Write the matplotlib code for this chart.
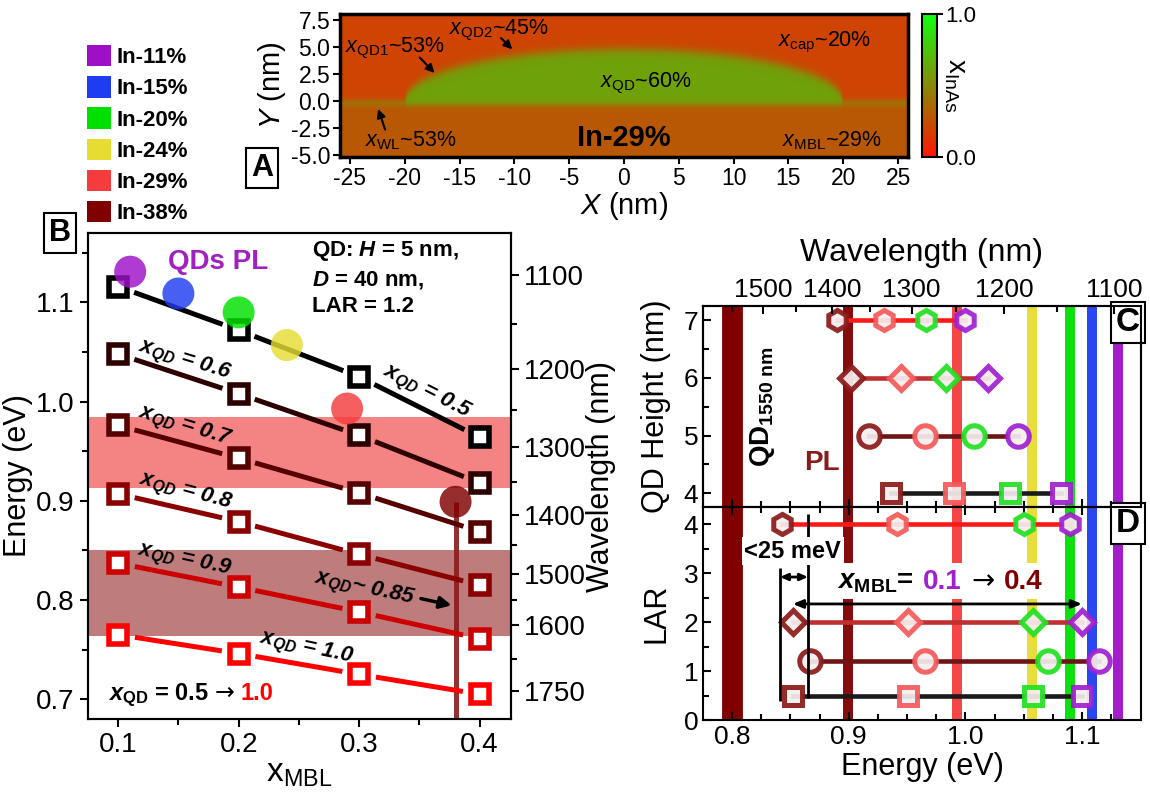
import numpy as np
import matplotlib
matplotlib.use("Agg")
import matplotlib.pyplot as plt
from matplotlib.colors import LinearSegmentedColormap
from matplotlib.patches import Patch
from matplotlib.offsetbox import TextArea, HPacker, AnnotationBbox

plt.rcParams['font.family'] = ['Liberation Sans', 'DejaVu Sans']
plt.rcParams['mathtext.fontset'] = 'custom'
plt.rcParams['mathtext.rm'] = 'Liberation Sans'
plt.rcParams['mathtext.it'] = 'Liberation Sans:italic'
plt.rcParams['mathtext.bf'] = 'Liberation Sans:bold'
plt.rcParams['mathtext.bfit'] = 'Liberation Sans:italic:bold'
plt.rcParams['axes.linewidth'] = 1.5

# ---- panel A: simulated composition
x_cap, x_qd, x_mbl, x_wl = 0.20, 0.60, 0.29, 0.53
qd_height, qd_diam = 4.8, 40.0

# ---- PL peaks / legend
in_labels = ["In-11%", "In-15%", "In-20%", "In-24%", "In-29%", "In-38%"]
in_colors = ["#9e10c8", "#1e3cf0", "#00e000", "#e6dc32", "#f53c3c", "#800000"]
pl_xmbl = [0.11, 0.15, 0.20, 0.24, 0.29, 0.38]
pl_energy = [1.131, 1.109, 1.090, 1.057, 0.993, 0.899]

# ---- panel B
xmbl = [0.1, 0.2, 0.3, 0.4]
xqd_vals = ["0.5", "0.6", "0.7", "0.8", "0.9", "1.0"]
e_b = [
    [1.116, 1.072, 1.025, 0.964],
    [1.048, 1.008, 0.966, 0.918],
    [0.976, 0.943, 0.908, 0.869],
    [0.907, 0.879, 0.846, 0.815],
    [0.837, 0.813, 0.788, 0.761],
    [0.765, 0.746, 0.725, 0.705],
]
series_colors = ["#000000", "#2d0000", "#560000", "#8b0000", "#cc0000", "#ff0000"]
band_lo = [0.913, 0.764]
band_hi = [0.984, 0.850]
band_colors = ["#f48484", "#bf7c7c"]
wl_major = [1100, 1200, 1300, 1400, 1500, 1600, 1750]
wl_minor = [1150, 1250, 1350, 1450, 1550, 1675]

# ---- panels C / D
heights = [7, 6, 5, 4]
lars = [4, 2, 1.2, 0.5]
row_markers = ['h', 'D', 'o', 's']
row_ms = [14.5, 12.5, 15.5, 12.5]
row_colors = ["#ff1a1a", "#c03030", "#6e1414", "#1a1a1a"]
mbl_colors = ["#8b1a1a", "#f55a5a", "#22e022", "#a020d0"]  # x_MBL 0.4, 0.3, 0.2, 0.1
e_c = [
    [0.890, 0.930, 0.966, 1.000],
    [0.902, 0.945, 0.983, 1.019],
    [0.917, 0.965, 1.007, 1.045],
    [0.936, 0.990, 1.038, 1.082],
]
e_d = [
    [0.843, 0.941, 1.050, 1.090],
    [0.852, 0.951, 1.058, 1.100],
    [0.867, 0.965, 1.071, 1.115],
    [0.852, 0.951, 1.058, 1.100],
]
wl_top = [1500, 1400, 1300, 1200, 1100]
wl_top_minor = [1550, 1450, 1350, 1250, 1150]
qd1550 = 1240 / 1550
bracket_e = [0.841, 0.865]

fig = plt.figure(figsize=(11.5, 7.93), dpi=100)


def px_axes(l, t, r, b):
    return fig.add_axes([l / 1150, 1 - b / 793, (r - l) / 1150, (b - t) / 793])


def gapped_line(ax, xs, ys, gap, **kw):
    pts = ax.transData.transform(np.column_stack([xs, ys]))
    inv = ax.transData.inverted()
    for p, q in zip(pts[:-1], pts[1:]):
        u = (q - p) / np.hypot(*(q - p))
        seg = inv.transform(np.array([p + u * gap, q - u * gap]))
        ax.plot(seg[:, 0], seg[:, 1], solid_capstyle='butt', **kw)


# ================= panel A
axA = px_axes(340, 14, 908, 157)
cax = px_axes(922, 14, 937, 157)
xg = np.linspace(-26, 26, 521)
yg = np.linspace(-5.5, 8.5, 281)
X, Y = np.meshgrid(xg, yg)
sig = lambda z: 1 / (1 + np.exp(-z))
top = qd_height * np.sqrt(np.clip(1 - (X / (qd_diam / 2)) ** 2, 0, None))
above = sig(Y / 0.2)
comp = x_mbl * (1 - above) + x_cap * above
wl = np.exp(-((Y + 0.2) / 0.35) ** 2)
comp = comp + (x_wl - comp) * wl * 0.45
inside = sig((top - Y) / 0.25) * sig((Y + 0.3) / 0.15) * (np.abs(X) < qd_diam / 2)
comp = comp * (1 - inside) + x_qd * inside
cmap = LinearSegmentedColormap.from_list("rg", ["#ff1500", "#10ff10"])
im = axA.imshow(comp, extent=[-26, 26, -5.5, 8.5], origin='lower', cmap=cmap,
                vmin=0, vmax=1, aspect='auto', interpolation='bilinear')
axA.set_xlim(-25.9, 25.9)
axA.set_ylim(-5.2, 8.05)
axA.set_xticks(np.arange(-25, 26, 5))
axA.set_yticks([-5, -2.5, 0, 2.5, 5, 7.5])
axA.set_yticklabels(["-5.0", "-2.5", "0.0", "2.5", "5.0", "7.5"])
axA.set_xticklabels([str(v) for v in range(-25, 26, 5)])
axA.tick_params(labelsize=16.5, width=1.5, length=5, pad=2)
axA.set_xlabel(r"$X$ (nm)", fontsize=21, labelpad=0)
axA.set_ylabel(r"$Y$ (nm)", fontsize=21, labelpad=2)
for sp in axA.spines.values():
    sp.set_linewidth(2.5)
tA = dict(fontsize=15.5)
axA.text(-25.4, 4.9, r"$x_{\mathrm{QD1}}$~53%", va='center', **tA)
axA.text(-16.0, 6.5, r"$x_{\mathrm{QD2}}$~45%", va='center', **tA)
axA.text(14.0, 5.4, r"$x_{\mathrm{cap}}$~20%", va='center', **tA)
axA.text(2.0, 1.6, r"$x_{\mathrm{QD}}$~60%", va='center', ha='center', **tA)
axA.text(-23.6, -3.7, r"$x_{\mathrm{WL}}$~53%", va='center', **tA)
axA.text(14.4, -3.7, r"$x_{\mathrm{MBL}}$~29%", va='center', **tA)
axA.text(0, -3.45, "In-29%", ha='center', va='center', fontsize=21, fontweight='bold')
arr = dict(arrowstyle='-|>,head_length=0.5,head_width=0.25', color='k', lw=1.5)
axA.annotate("", xy=(-17.1, 2.4), xytext=(-18.8, 4.2), arrowprops=arr)
axA.annotate("", xy=(-10.0, 4.6), xytext=(-11.4, 6.0), arrowprops=arr)
axA.annotate("", xy=(-22.5, -0.5), xytext=(-21.7, -2.9), arrowprops=arr)
cb = fig.colorbar(im, cax=cax, ticks=[0, 1], format='%.1f')
cb.outline.set_linewidth(1.5)
cax.tick_params(labelsize=16, width=1.5, length=4, pad=2)
cb.set_label(r"x$_{\mathrm{InAs}}$", rotation=270, fontsize=20)
cax.yaxis.set_label_coords(3.1, 0.5)

# legend
handles = [Patch(facecolor=c, edgecolor='none') for c in in_colors]
fig.legend(handles, in_labels, loc='upper left', bbox_to_anchor=(87 / 1150, 1 - 45 / 793),
           frameon=False, prop=dict(size=16, weight='bold'), handlelength=1.1,
           handleheight=1.1, handletextpad=0.25, labelspacing=0.36, borderpad=0,
           borderaxespad=0)

# ================= panel B
axB = px_axes(88, 233, 511, 719)
axB.set_xlim(0.075, 0.426)
axB.set_ylim(0.68, 1.17)
for lo, hi, c in zip(band_lo, band_hi, band_colors):
    axB.axhspan(lo, hi, color=c, lw=0, zorder=0)
axB.vlines(pl_xmbl[-1], 0.68, pl_energy[-1], color='#8b1a1a', lw=3.6, alpha=0.9, zorder=1)
for e, c in zip(e_b, series_colors):
    gapped_line(axB, xmbl, e, 17, color=c, lw=3.6, zorder=2)
    axB.plot(xmbl, e, ls='none', marker='s', ms=12.5, mew=4.0, mec=c, mfc='white', zorder=3)
axB.scatter(pl_xmbl, pl_energy, s=530, c=in_colors, alpha=0.82, edgecolors='none', zorder=4)
axB.set_xticks(xmbl)
axB.set_xticklabels(["0.1", "0.2", "0.3", "0.4"])
axB.set_xticks([0.15, 0.25, 0.35], minor=True)
axB.set_yticks([0.7, 0.8, 0.9, 1.0, 1.1])
axB.set_yticks([0.75, 0.85, 0.95, 1.05, 1.15], minor=True)
axB.tick_params(labelsize=20, width=1.5, length=6)
axB.tick_params(which='minor', width=1.5, length=4)
axB.set_xlabel(r"x$_{\mathrm{MBL}}$", fontsize=24, labelpad=0)
axB.set_ylabel("Energy (eV)", fontsize=22, labelpad=2)
axW = axB.twinx()
axW.set_ylim(axB.get_ylim())
axW.set_yticks([1240 / w for w in wl_major])
axW.set_yticklabels([str(w) for w in wl_major])
axW.set_yticks([1240 / w for w in wl_minor], minor=True)
axW.tick_params(labelsize=20, width=1.5, length=6)
axW.tick_params(which='minor', width=1.5, length=4)
axW.set_ylabel("Wavelength (nm)", fontsize=22, labelpad=0)

lab = dict(fontsize=16, fontweight='bold', fontstyle='italic', ha='center', va='center',
           rotation_mode='anchor', zorder=5)
lab_pos = [(0.356, 1.0095, -27), (0.1555, 1.0407, -17), (0.155, 0.9744, -17),
           (0.1555, 0.909, -15), (0.155, 0.8397, -12), (0.2558, 0.751, -12)]
for v, (lx, ly, rot) in zip(xqd_vals, lab_pos):
    axB.text(lx, ly, r"$\mathbfit{x}_{\mathbfit{QD}}$ = " + v, rotation=rot, **lab)
axB.text(0.3046, 0.811, r"$\mathbfit{x}_{\mathbfit{QD}}$~ 0.85", rotation=-12, **lab)
axB.annotate("", xy=(0.379, 0.794), xytext=(0.349, 0.802),
             arrowprops=dict(arrowstyle='-|>,head_length=0.7,head_width=0.35', color='k', lw=2.5),
             zorder=5)
axB.text(0.183, 1.141, "QDs PL", color='#a020c0', fontsize=20, fontweight='bold',
         ha='center', va='center', zorder=5)
axB.text(0.2607, 1.164, "QD: $\\mathbfit{H}$ = 5 nm,\n$\\mathbfit{D}$ = 40 nm,\nLAR = 1.2",
         fontsize=16, fontweight='bold', ha='left', va='top', linespacing=1.35, zorder=5)
packB = HPacker(children=[
    TextArea(r"$\mathbfit{x}_{\mathbf{QD}}$ = 0.5", textprops=dict(size=17, weight='bold')),
    TextArea("→", textprops=dict(size=17, family='DejaVu Sans')),
    TextArea("1.0", textprops=dict(size=17, weight='bold', color='#ff0000'))], sep=4, pad=0,
    align='baseline')
axB.add_artist(AnnotationBbox(packB, (0.092, 0.704), box_alignment=(0, 0.5), frameon=False,
                              zorder=5))

# ================= panels C and D
axC = px_axes(703, 306, 1141, 507)
axD = px_axes(703, 507, 1141, 720)
for ax in (axC, axD):
    ax.set_xlim(0.775, 1.1506)
    ax.axvline(qd1550, color='#800000', lw=15, zorder=1)
    for e, c in zip(pl_energy, in_colors):
        ax.axvline(e, color=c, lw=7.2, alpha=0.95, zorder=1)
    ax.set_xticks([0.8, 0.9, 1.0, 1.1])
    ax.set_xticks(np.arange(0.8, 1.15, 0.025), minor=True)
    ax.tick_params(direction='in', labelsize=19, width=1.5, length=6)
    ax.tick_params(which='minor', direction='in', width=1.5, length=4)
axC.set_ylim(3.76, 7.25)
axC.set_yticks([4, 5, 6, 7])
axC.set_yticks([4.5, 5.5, 6.5], minor=True)
axC.tick_params(labelbottom=False)
axD.set_ylim(0, 4.35)
axD.set_yticks([0, 1, 2, 3, 4])
axD.set_yticks([0.5, 1.5, 2.5, 3.5], minor=True)
axD.tick_params(top=True, which='both')
axD.set_xticklabels(["0.8", "0.9", "1.0", "1.1"])
axD.set_xlabel("Energy (eV)", fontsize=22, labelpad=2)
axC.set_ylabel("QD Height (nm)", fontsize=22)
axD.set_ylabel("LAR", fontsize=22)
axC.yaxis.set_label_coords(-0.072, 0.5)
axD.yaxis.set_label_coords(-0.072, 0.5)

for ax, ys, es in ((axC, heights, e_c), (axD, lars, e_d)):
    for y, e, m, ms, lc in zip(ys, es, row_markers, row_ms, row_colors):
        ax.plot(e, [y] * len(e), color=lc, lw=3.3, zorder=2)
        for ex, mc in zip(e, mbl_colors):
            ax.plot(ex, y, ls='none', marker=m, ms=ms, mew=3.6, mec=mc, mfc='#f6eeee',
                    alpha=0.92, zorder=3)

axT = axC.twiny()
axT.set_xlim(axC.get_xlim())
axT.set_xticks([1240 / w for w in wl_top])
axT.set_xticklabels([str(w) for w in wl_top])
axT.set_xticks([1240 / w for w in wl_top_minor], minor=True)
axT.tick_params(direction='in', labelsize=19, width=1.5, length=6, pad=3)
axT.tick_params(which='minor', direction='in', width=1.5, length=4)
axT.set_xlabel("Wavelength (nm)", fontsize=23, labelpad=12)

axC.text(0.826, 5.5, r"QD$_{\mathbf{1550\ nm}}$", rotation=90, fontsize=20, fontweight='bold',
         ha='center', va='center', zorder=5)
axC.text(0.877, 4.52, "PL", color='#8b1a1a', fontsize=20, fontweight='bold',
         ha='center', va='center', zorder=5)

# D annotations
axD.vlines(bracket_e[0], 0.39, 3.1, color='k', lw=2, zorder=4)
axD.vlines(bracket_e[1], 0.45, 4.2, color='k', lw=2, zorder=4)
axD.annotate("", xy=(bracket_e[0], 2.92), xytext=(bracket_e[1], 2.92),
             arrowprops=dict(arrowstyle='<|-|>,head_length=0.45,head_width=0.2', color='k',
                             lw=2, shrinkA=0, shrinkB=0), zorder=4)
axD.annotate("", xy=(e_d[1][0], 2.37), xytext=(e_d[1][3], 2.37),
             arrowprops=dict(arrowstyle='<|-|>,head_length=0.6,head_width=0.25', color='k',
                             lw=2, shrinkA=0, shrinkB=0), zorder=4)
axD.text(0.852, 3.45, "<25 meV", fontsize=17, fontweight='bold', ha='center', va='center',
         zorder=6, bbox=dict(boxstyle='square,pad=0.12', fc='white', ec='none'))
packD = HPacker(children=[
    TextArea(r"$\mathbfit{x}_{\mathbf{MBL}}$=", textprops=dict(size=20, weight='bold')),
    TextArea("0.1", textprops=dict(size=20, weight='bold', color='#a020d0')),
    TextArea("→", textprops=dict(size=20, family='DejaVu Sans')),
    TextArea("0.4", textprops=dict(size=20, weight='bold', color='#800000'))], sep=7, pad=0,
    align='baseline')
axD.add_artist(AnnotationBbox(packD, (0.978, 2.84), box_alignment=(0.5, 0.5), frameon=True,
                              pad=0.25, bboxprops=dict(fc='white', ec='none'), zorder=6))

# panel letters
box = dict(boxstyle='square,pad=0.15', fc='white', ec='k', lw=1.5)
fig.text(262 / 1150, 1 - 168 / 793, "A", ha='center', va='center', fontsize=22,
         fontweight='bold', bbox=box)
fig.text(60 / 1150, 1 - 233 / 793, "B", ha='center', va='center', fontsize=22,
         fontweight='bold', bbox=box)
axC.text(0.997, 0.993, "C", transform=axC.transAxes, ha='right', va='top', fontsize=24,
         fontweight='bold', bbox=box, zorder=7)
axD.text(0.997, 0.993, "D", transform=axD.transAxes, ha='right', va='top', fontsize=24,
         fontweight='bold', bbox=box, zorder=7)

fig.savefig("out.png", dpi=100)
